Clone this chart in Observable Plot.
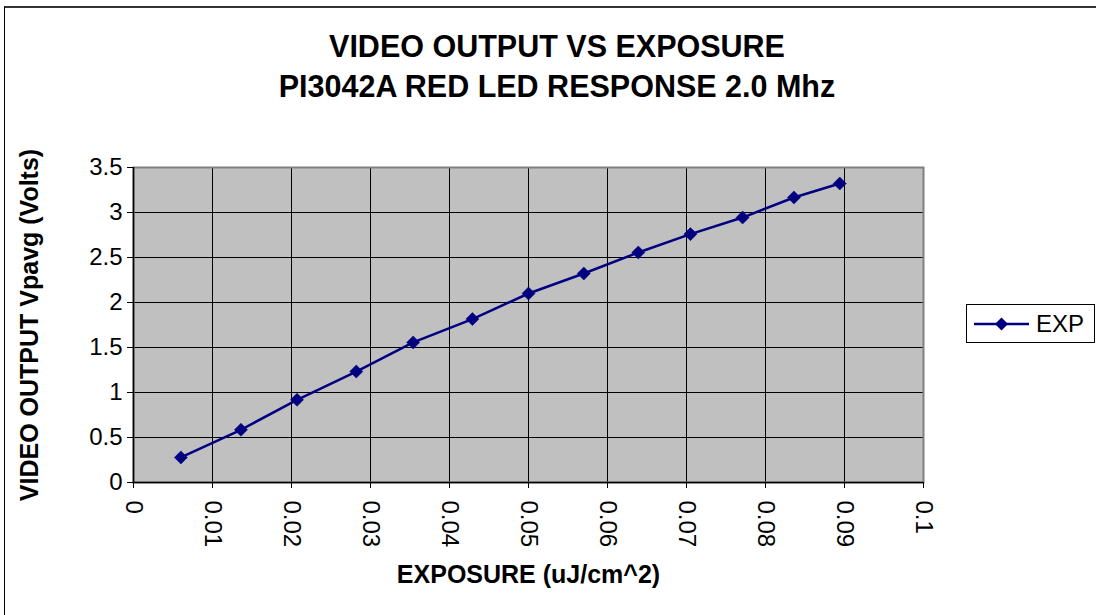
<!DOCTYPE html>
<html>
<head>
<meta charset="utf-8">
<script src="https://cdn.jsdelivr.net/npm/d3@7"></script>
<script src="https://cdn.jsdelivr.net/npm/@observablehq/plot@0.6"></script>
<style>
  html, body { margin: 0; padding: 0; background: #fff; }
  #wrap { position: relative; width: 1096px; height: 615px; overflow: hidden; font-family: "Liberation Sans", Arial, sans-serif; }
  #border { position: absolute; left: 4px; top: 6px; width: 1200px; height: 700px; border-left: 1px solid #000; border-top: 2px solid #333; box-sizing: border-box; }
  #title { position: absolute; left: 0; top: 26px; width: 1114px; text-align: center; font-weight: bold; font-size: 30.5px; line-height: 40px; color: #000; }
  #legend { position: absolute; left: 966px; top: 304px; width: 129px; height: 39px; border: 1px solid #000; box-sizing: border-box; background: #fff; }
  #legend svg { position: absolute; left: 0; top: 0; }
  #chart { position: absolute; left: 0; top: 0; }
</style>
</head>
<body>
<div id="wrap">
  <div id="border"></div>
  <div id="chart"></div>
  <div id="title">VIDEO OUTPUT VS EXPOSURE<br>PI3042A RED LED RESPONSE 2.0 Mhz</div>
  <div id="legend"></div>
</div>
<script>
// Data
const exposure = [0.0060, 0.0136, 0.0207, 0.0282, 0.0354, 0.0429, 0.0500, 0.0570, 0.0639, 0.0705, 0.0771, 0.0836, 0.0894];
const vpavg    = [0.278, 0.586, 0.919, 1.233, 1.556, 1.816, 2.100, 2.322, 2.556, 2.760, 2.944, 3.167, 3.322];
const seriesName = "EXP";
const xTicks = [0, 0.01, 0.02, 0.03, 0.04, 0.05, 0.06, 0.07, 0.08, 0.09, 0.1];
const xTickLabels = ["0", "0.01", "0.02", "0.03", "0.04", "0.05", "0.06", "0.07", "0.08", "0.09", "0.1"];
const yTicks = [0, 0.5, 1, 1.5, 2, 2.5, 3, 3.5];
const yTickLabels = ["0", "0.5", "1", "1.5", "2", "2.5", "3", "3.5"];
const xTitle = "EXPOSURE (uJ/cm^2)";
const yTitle = "VIDEO OUTPUT Vpavg (Volts)";

const data = exposure.map((x, i) => ({x, y: vpavg[i]}));
const navy = "#000080";

const chart = Plot.plot({
  width: 1096,
  height: 615,
  marginLeft: 133,
  marginRight: 173,
  marginTop: 167,
  marginBottom: 133,
  style: {fontFamily: "'Liberation Sans', Arial, sans-serif", background: "transparent", overflow: "visible"},
  x: {domain: [0, 0.1]},
  y: {domain: [0, 3.5]},
  marks: [
    Plot.frame({fill: "#c0c0c0"}),
    Plot.gridX(xTicks, {stroke: "#000", strokeOpacity: 1, strokeWidth: 1}),
    Plot.gridY(yTicks, {stroke: "#000", strokeOpacity: 1, strokeWidth: 1}),
    Plot.frame({stroke: "#808080", strokeWidth: 2}),
    Plot.ruleX([0], {stroke: "#000", strokeWidth: 1.5}),
    Plot.ruleY([0], {stroke: "#000", strokeWidth: 1.5}),
    Plot.axisX(xTicks, {
      tickSize: 6, tickRotate: 90, tickPadding: 12, fontSize: 24,
      tickFormat: (d) => xTickLabels[xTicks.indexOf(d)],
      label: xTitle, labelAnchor: "center", labelArrow: "none", labelOffset: 100
    }),
    Plot.axisY(yTicks, {
      tickSize: 6, tickPadding: 5, fontSize: 24,
      tickFormat: d => yTickLabels[yTicks.indexOf(d)],
      label: yTitle, labelAnchor: "center", labelArrow: "none", labelOffset: 113
    }),
    Plot.line(data, {x: "x", y: "y", stroke: navy, strokeWidth: 2.5}),
    Plot.dot(data, {x: "x", y: "y", symbol: "diamond2", r: 5.9, fill: navy, stroke: navy, strokeWidth: 0.5})
  ]
});

chart.querySelectorAll("[aria-label='x-axis label'], [aria-label='y-axis label']").forEach(g => {
  g.setAttribute("font-weight", "bold");
  g.setAttribute("font-size", "25");
  g.setAttribute("fill", "#000");
});
document.getElementById("chart").appendChild(chart);

// legend
const leg = d3.select("#legend").append("svg").attr("width", 127).attr("height", 37);
leg.append("line").attr("x1", 7).attr("x2", 62).attr("y1", 19).attr("y2", 19).attr("stroke", navy).attr("stroke-width", 2.5);
leg.append("path").attr("d", d3.symbol(d3.symbolDiamond2, 108)()).attr("transform", "translate(34.5,19)").attr("fill", navy);
leg.append("text").attr("x", 69).attr("y", 27).attr("font-size", 24).attr("font-family", "'Liberation Sans', Arial, sans-serif").text(seriesName);
</script>
</body>
</html>
